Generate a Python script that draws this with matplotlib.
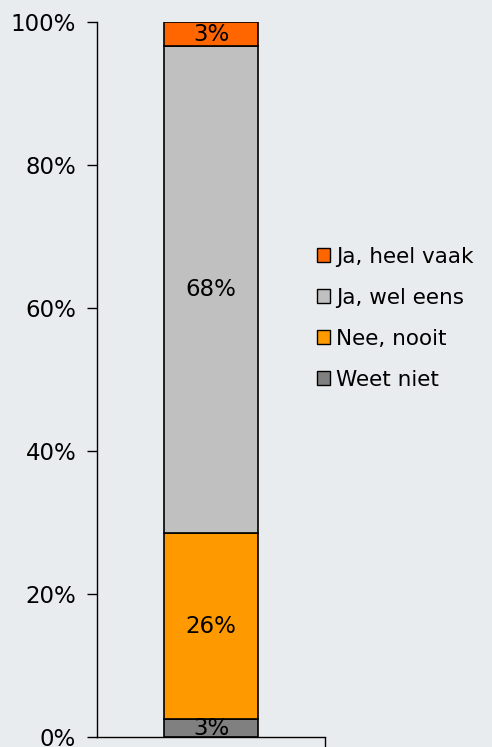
import numpy as np
import matplotlib.pyplot as plt
from matplotlib.patches import Patch

categories = ['Weet niet', 'Nee, nooit', 'Ja, wel eens', 'Ja, heel vaak']
values = [2.5, 26.0, 68.1, 3.4]
labels = ['3%', '26%', '68%', '3%']
colors = ['#808080', '#FF9900', '#C0C0C0', '#FF6600']

bg = '#E9ECEE'
fig = plt.figure(figsize=(4.92, 7.47), dpi=100, facecolor=bg)
ax = fig.add_axes([97 / 492, 10 / 747, 228 / 492, 715 / 747], facecolor=bg)

bottom = 0
for cat, v, lab, c in zip(categories, values, labels, colors):
    ax.bar(0, v, bottom=bottom, width=0.41, color=c, edgecolor='black', linewidth=1.2, zorder=2)
    ax.text(0, bottom + v / 2, lab, ha='center', va='center', fontsize=16.5, zorder=3)
    bottom += v

ax.set_xlim(-0.5, 0.5)
ax.set_ylim(0, 100)
ax.set_yticks(np.arange(0, 101, 20))
ax.set_yticklabels([f'{t}%' for t in range(0, 101, 20)], fontsize=16.5)
ax.set_xticks([0.5])
ax.set_xticklabels([''])
ax.tick_params(axis='y', length=7, width=1, pad=8)
ax.tick_params(axis='x', length=10, width=1, direction='out')
for s in ['top', 'right']:
    ax.spines[s].set_visible(False)
for s in ['left', 'bottom']:
    ax.spines[s].set_linewidth(1)

handles = [Patch(facecolor=c, edgecolor='black', linewidth=1, label=cat)
           for cat, c in zip(categories, colors)][::-1]
fig.legend(handles=handles, loc='center left', bbox_to_anchor=(0.605, 0.574),
           frameon=False, fontsize=15.5, handlelength=0.6, handleheight=0.6,
           handletextpad=0.3, labelspacing=0.98)

fig.savefig('out.png', dpi=100, facecolor=bg)
